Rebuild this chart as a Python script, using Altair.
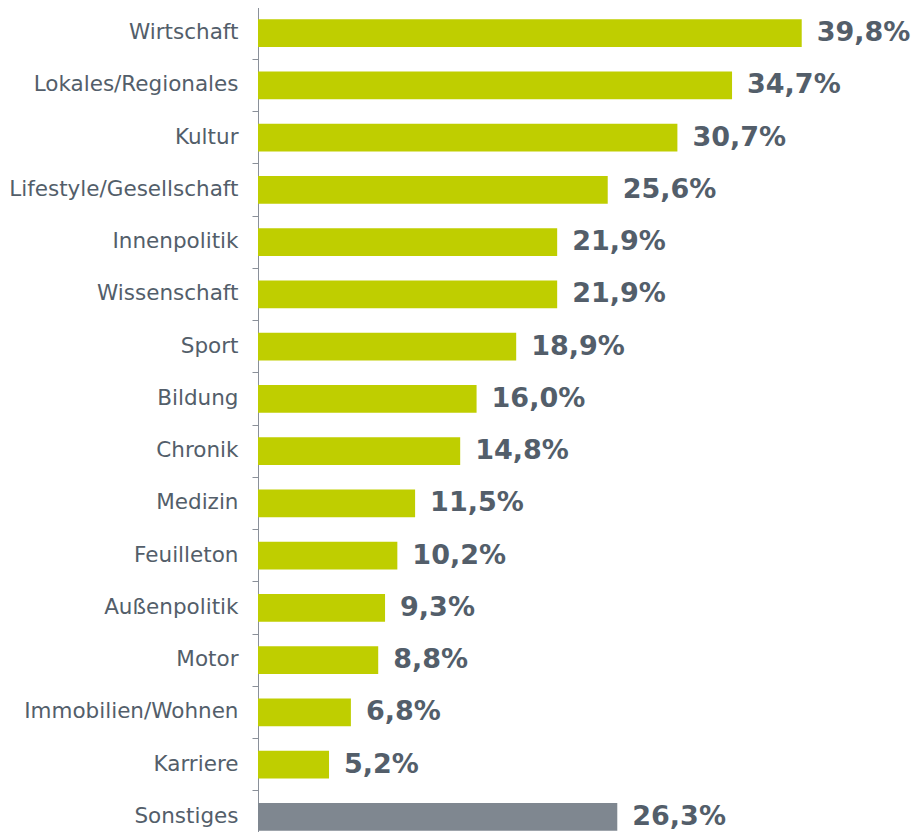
import altair as alt
import pandas as pd

categories = ["Wirtschaft", "Lokales/Regionales", "Kultur", "Lifestyle/Gesellschaft",
              "Innenpolitik", "Wissenschaft", "Sport", "Bildung", "Chronik", "Medizin",
              "Feuilleton", "Außenpolitik", "Motor", "Immobilien/Wohnen", "Karriere",
              "Sonstiges"]
values = [39.8, 34.7, 30.7, 25.6, 21.9, 21.9, 18.9, 16.0, 14.8, 11.5, 10.2, 9.3, 8.8,
          6.8, 5.2, 26.3]
groups = ["Thema"] * 15 + ["Sonstiges"]
labels = [f"{v:.1f}%".replace(".", ",") for v in values]

df = pd.DataFrame({"cat": categories, "val": values, "grp": groups, "lab": labels})

FONT = "DejaVu Sans"
TEXT = "#535E6A"
PI = 0.4646
PO = PI / 2

y = alt.Y("cat:N", sort=categories, title=None,
          scale=alt.Scale(paddingInner=PI, paddingOuter=PO, range=[-1, 835]),
          axis=alt.Axis(bandPosition=-PI / (2 * (1 - PI)), labelFont=FONT, labelFontSize=21.5,
                        labelColor=TEXT, labelPadding=14, tickSize=6,
                        tickColor="#8A9099", domainColor="#8A9099",
                        labelLimit=300))
x = alt.X("val:Q", scale=alt.Scale(domain=[0, 47.8]), axis=None)

bars = alt.Chart(df).mark_bar().encode(
    x=x, y=y,
    color=alt.Color("grp:N", scale=alt.Scale(domain=["Thema", "Sonstiges"],
                                             range=["#BFCE00", "#7F8790"]), legend=None),
)
text = alt.Chart(df).mark_text(align="left", baseline="middle", dx=15, font=FONT,
                               fontSize=27, fontWeight="bold", color=TEXT).encode(
    x=x, y=y, text="lab:N")

chart = (bars + text).properties(
    width=653, height=824,
    autosize=alt.AutoSizeParams(type="none"),
    padding={"left": 250, "top": 0, "right": 0, "bottom": 0},
).configure_view(stroke=None)
chart.save("out.html", embed_options={"renderer": "svg", "actions": False})
